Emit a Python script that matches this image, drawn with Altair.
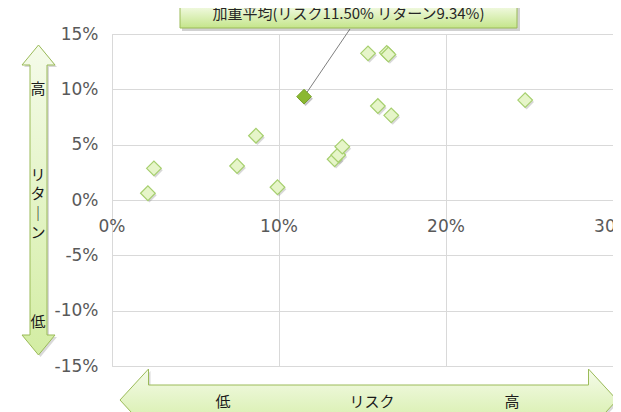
import altair as alt
import pandas as pd

# ---- data (percent) ----
risk = [2.15, 2.51, 7.49, 8.62, 9.91, 13.33, 13.55, 13.79, 15.33, 16.45, 16.55, 15.92, 16.72, 24.74]
ret = [0.61, 2.86, 3.07, 5.81, 1.15, 3.68, 4.07, 4.82, 13.25, 13.30, 13.15, 8.49, 7.65, 9.03]
avg_risk = [11.50]
avg_ret = [9.34]
x_ticks = [0, 10, 20, 30]
y_ticks = [-15, -10, -5, 0, 5, 10, 15]
callout = "加重平均(リスク{:.2f}%  リターン{:.2f}%)".format(avg_risk[0], avg_ret[0])
ret_high, ret_label, ret_low = "高", ["リ", "タ", "｜", "ン"], "低"
risk_low, risk_label, risk_high = "低", "リスク", "高"

pts = pd.DataFrame({"risk": risk, "ret": ret})
avg = pd.DataFrame({"risk": avg_risk, "ret": avg_ret})
xt = pd.DataFrame({"v": x_ticks})
one = pd.DataFrame({"a": [0]})

W, H = 501, 332
GRID = "#d9d9d9"
LBL = "#595959"
GREEN_STROKE = "#9bbb59"

xs = alt.Scale(domain=[0, 30], nice=False, zero=False)
ys = alt.Scale(domain=[-15, 15], nice=False, zero=False)

x_axis = alt.Axis(values=x_ticks, grid=True, gridColor=GRID, labels=False, ticks=False,
                  domain=False, title=None)
y_axis = alt.Axis(values=y_ticks, grid=True, gridColor=GRID, ticks=False, domain=False,
                  title=None, labelExpr="datum.value + '%'", labelPadding=14,
                  labelFontSize=17, labelColor=LBL, labelFont="DejaVu Sans")

arrow_grad = alt.Gradient(gradient="linear", x1=0, x2=0, y1=0, y2=1,
                          stops=[alt.GradientStop(color="#f5fbea", offset=0),
                                 alt.GradientStop(color="#d3eda3", offset=1)])
box_grad = alt.Gradient(gradient="linear", x1=0, x2=0, y1=0, y2=1,
                        stops=[alt.GradientStop(color="#f7fcec", offset=0),
                               alt.GradientStop(color="#c4e58a", offset=1)])

v_arrow = ("M0,-155L16.5,-135L8.5,-135L8.5,135L16.5,135L0,155L-16.5,135L-8.5,135"
           "L-8.5,-135L-16.5,-135Z")
h_arrow = ("M-248.5,0L-220,-31L-220,-15L220,-15L220,-31L248.5,0L220,31L220,15"
           "L-220,15L-220,31Z")

base = alt.Chart(pts)

# points (shadow + diamonds)
pt_shadow = base.mark_point(shape="diamond", size=215, filled=True, color="#7f7f7f",
                            opacity=0.3, xOffset=1.5, yOffset=2).encode(
    x=alt.X("risk:Q", scale=xs, axis=x_axis),
    y=alt.Y("ret:Q", scale=ys, axis=y_axis))
pt = base.mark_point(shape="diamond", size=215, filled=True, fill="#e6f5c9",
                     stroke="#a6cf6e", strokeWidth=1.2, opacity=1).encode(
    x="risk:Q", y="ret:Q")

# x labels at the zero line, through the scales
x_labels = alt.Chart(xt).transform_calculate(lab="datum.v + '%'").mark_text(
    baseline="top", align="center", dy=19, fontSize=17, color=LBL, font="DejaVu Sans").encode(
    x="v:Q", y=alt.datum(0), text="lab:N")

# leader line and weighted average
leader = alt.Chart(avg).mark_rule(color="#7f7f7f", strokeWidth=1).encode(
    x="risk:Q", y="ret:Q", x2=alt.value(238), y2=alt.value(-5))
avg_shadow = alt.Chart(avg).mark_point(shape="diamond", size=215, filled=True, color="#555555",
                                       opacity=0.35, xOffset=1.5, yOffset=2).encode(
    x="risk:Q", y="ret:Q")
avg_pt = alt.Chart(avg).mark_point(shape="diamond", size=215, filled=True, fill="#8bb832",
                                   stroke="#76a125", strokeWidth=1, opacity=1).encode(
    x="risk:Q", y="ret:Q")

# callout box
ann = alt.Chart(one)
box_shadow = ann.mark_rect(color="#000000", opacity=0.18).encode(
    x=alt.value(70), x2=alt.value(408), y=alt.value(-30), y2=alt.value(-3))
box = ann.mark_rect(fill=box_grad, stroke=GREEN_STROKE, strokeWidth=1).encode(
    x=alt.value(68), x2=alt.value(405), y=alt.value(-30), y2=alt.value(-6))
box_text = ann.mark_text(fontSize=15, font="Noto Sans CJK JP", color="#262626",
                         baseline="middle", align="center").encode(
    x=alt.value(236.5), y=alt.value(-20), text=alt.value(callout))

# arrows
va_shadow = ann.mark_point(shape=v_arrow, size=4, filled=True, color="#000000", opacity=0.15).encode(
    x=alt.value(-71.5), y=alt.value(168))
va = ann.mark_point(shape=v_arrow, size=4, filled=True, fill=arrow_grad, stroke=GREEN_STROKE,
                    strokeWidth=1, opacity=1).encode(x=alt.value(-73.5), y=alt.value(166))
ha_shadow = ann.mark_point(shape=h_arrow, size=4, filled=True, color="#000000", opacity=0.15).encode(
    x=alt.value(258.5), y=alt.value(368))
ha = ann.mark_point(shape=h_arrow, size=4, filled=True, fill=arrow_grad, stroke=GREEN_STROKE,
                    strokeWidth=1, opacity=1).encode(x=alt.value(256.5), y=alt.value(366))

jp = dict(font="Noto Sans CJK JP", fontSize=15, color="#1a1a1a", align="center", baseline="middle")
t_hi = ann.mark_text(**jp).encode(x=alt.value(-74), y=alt.value(55), text=alt.value(ret_high))
t_ret = ann.mark_text(lineHeight=19.3, **jp).encode(x=alt.value(-74), y=alt.value(141),
                                                     text=alt.value(ret_label))
t_lo = ann.mark_text(**jp).encode(x=alt.value(-74), y=alt.value(288), text=alt.value(ret_low))
r_lo = ann.mark_text(**jp).encode(x=alt.value(111), y=alt.value(368), text=alt.value(risk_low))
r_lab = ann.mark_text(**jp).encode(x=alt.value(260), y=alt.value(368), text=alt.value(risk_label))
r_hi = ann.mark_text(**jp).encode(x=alt.value(400), y=alt.value(368), text=alt.value(risk_high))

chart = alt.layer(
    pt_shadow, pt, x_labels, leader, avg_shadow, avg_pt,
    va_shadow, va, ha_shadow, ha,
    box_shadow, box, box_text,
    t_hi, t_ret, t_lo, r_lo, r_lab, r_hi,
).properties(
    width=W, height=H,
    autosize=alt.AutoSizeParams(type="none"),
    padding={"left": 104, "top": 26, "right": 0, "bottom": 46},
    background="white",
).configure_view(stroke=GRID, strokeWidth=1)

chart.save("out.html", embed_options={"renderer": "svg", "actions": False})
